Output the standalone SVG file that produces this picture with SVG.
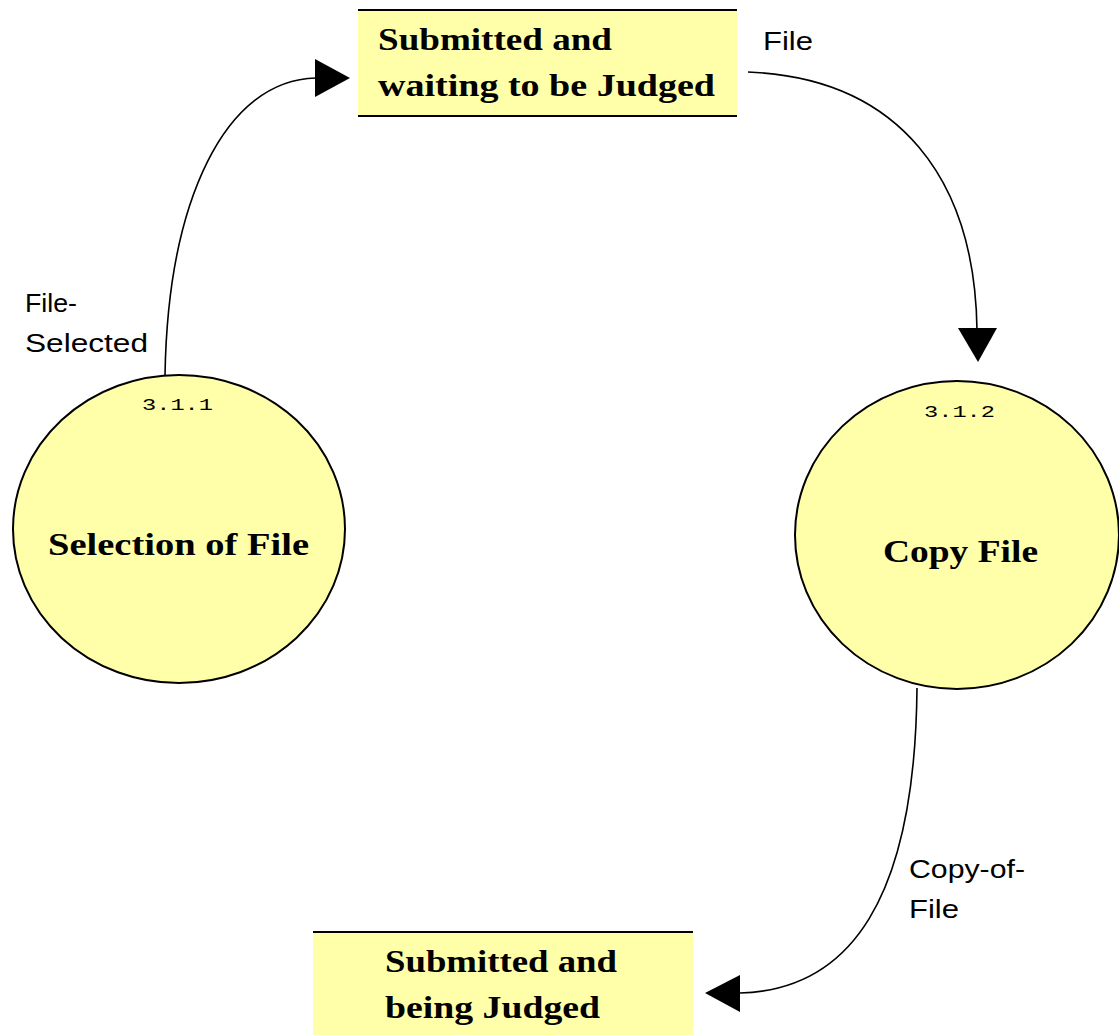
<svg xmlns="http://www.w3.org/2000/svg" width="1119" height="1035" viewBox="0 0 1119 1035">
<style>
.fill{fill:#FFFFAA}
.edge{stroke:#000;stroke-width:2;fill:none}
.proc{fill:#FFFFAA;stroke:#000;stroke-width:2}
.big{font-family:"Liberation Serif","Times New Roman",serif;font-weight:bold;font-size:32px;fill:#000}
.num{font-family:"Liberation Mono","Courier New",monospace;font-size:17px;fill:#000}
.lbl{font-family:"Liberation Sans",Arial,sans-serif;font-size:26px;fill:#000}
.conn{stroke:#000;stroke-width:1.6;fill:none}
</style>
<rect width="1119" height="1035" fill="#fff"/>
<g id="store-waiting">
<rect x="358" y="10" width="379" height="106" class="fill"/>
<line x1="358" y1="10" x2="737" y2="10" class="edge"/>
<line x1="358" y1="116" x2="737" y2="116" class="edge"/>
<text x="378" y="50" class="big" textLength="234" lengthAdjust="spacingAndGlyphs">Submitted and</text>
<text x="378" y="96" class="big" textLength="337" lengthAdjust="spacingAndGlyphs">waiting to be Judged</text>
</g>
<g id="store-being">
<rect x="313" y="932" width="380" height="103" class="fill"/>
<line x1="313" y1="932" x2="693" y2="932" class="edge"/>
<text x="385" y="972" class="big" textLength="232" lengthAdjust="spacingAndGlyphs">Submitted and</text>
<text x="385" y="1018" class="big" textLength="215" lengthAdjust="spacingAndGlyphs">being Judged</text>
</g>
<g id="proc-311">
<ellipse cx="179" cy="529" rx="166" ry="154" class="proc"/>
<text x="142" y="410" class="num" textLength="71" lengthAdjust="spacingAndGlyphs">3.1.1</text>
<text x="48" y="555" class="big" textLength="261" lengthAdjust="spacingAndGlyphs">Selection of File</text>
</g>
<g id="proc-312">
<ellipse cx="957" cy="535" rx="162" ry="154" class="proc"/>
<text x="924" y="417" class="num" textLength="71" lengthAdjust="spacingAndGlyphs">3.1.2</text>
<text x="883" y="562" class="big" textLength="155" lengthAdjust="spacingAndGlyphs">Copy File</text>
</g>
<g id="connectors">
<path d="M165,375 C168,200 225,80 316,78" class="conn"/>
<polygon points="315,59 350,78 315,97" fill="#000"/>
<text x="25" y="312" class="lbl" textLength="52" lengthAdjust="spacingAndGlyphs">File-</text>
<text x="25" y="352" class="lbl" textLength="123" lengthAdjust="spacingAndGlyphs">Selected</text>
<path d="M748,72 C900,78 975,180 977,330" class="conn"/>
<polygon points="958,328 997,328 978,362" fill="#000"/>
<text x="763" y="50" class="lbl" textLength="50" lengthAdjust="spacingAndGlyphs">File</text>
<path d="M917,688 C915,900 850,990 740,993" class="conn"/>
<polygon points="740,975 740,1012 705,993" fill="#000"/>
<text x="909" y="878" class="lbl" textLength="116" lengthAdjust="spacingAndGlyphs">Copy-of-</text>
<text x="909" y="918" class="lbl" textLength="50" lengthAdjust="spacingAndGlyphs">File</text>
</g>
</svg>
